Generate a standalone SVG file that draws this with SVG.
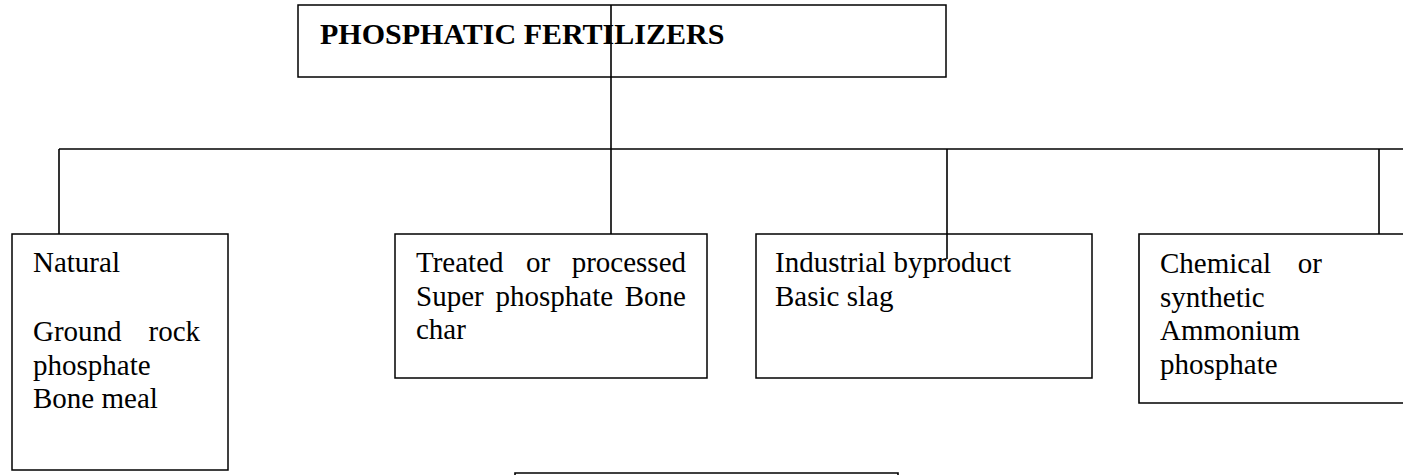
<svg xmlns="http://www.w3.org/2000/svg" width="1415" height="475" viewBox="0 0 1415 475">
<style>
.box{fill:#fff;stroke:#000;stroke-width:1.5}
.ln{fill:none;stroke:#000;stroke-width:1.6}
text{font-family:"Liberation Serif","Times New Roman",serif;font-size:29px;fill:#000}
.title{font-weight:bold;font-size:30px}
</style>
<rect width="1415" height="475" fill="#fff"/>
<g id="n-title">
<rect class="box" x="298" y="5" width="648" height="72"/>
<text class="title" x="320" y="44">PHOSPHATIC FERTILIZERS</text>
</g>
<g id="n-natural">
<rect class="box" x="12" y="234" width="216" height="236"/>
<text x="33" y="272">Natural</text>
<text x="33" y="341">Ground</text>
<text x="200" y="341" text-anchor="end">rock</text>
<text x="33" y="374.5">phosphate</text>
<text x="33" y="408">Bone meal</text>
</g>
<g id="n-treated">
<rect class="box" x="395" y="234" width="312" height="144"/>
<text x="416" y="272">Treated</text>
<text x="526" y="272">or</text>
<text x="686" y="272" text-anchor="end">processed</text>
<text x="416" y="305.5">Super</text>
<text x="495.5" y="305.5">phosphate</text>
<text x="686" y="305.5" text-anchor="end">Bone</text>
<text x="416" y="339">char</text>
</g>
<g id="n-industrial">
<rect class="box" x="756" y="234" width="336" height="144"/>
<text x="775" y="272">Industrial byproduct</text>
<text x="775" y="305.5">Basic slag</text>
</g>
<g id="n-chemical">
<path class="ln" d="M1403 234H1139V403H1403"/>
<text x="1160" y="273">Chemical</text>
<text x="1322" y="273" text-anchor="end">or</text>
<text x="1160" y="306.5">synthetic</text>
<text x="1160" y="340">Ammonium</text>
<text x="1160" y="373.5">phosphate</text>
</g>
<g id="n-bottom">
<path class="ln" d="M515 480V473H898V480"/>
</g>
<g id="connectors">
<path class="ln" d="M59 149H1403"/>
<path class="ln" d="M611 5V234"/>
<path class="ln" d="M59 149V234"/>
<path class="ln" d="M947 149V259"/>
<path class="ln" d="M1379 149V234"/>
</g>
</svg>
